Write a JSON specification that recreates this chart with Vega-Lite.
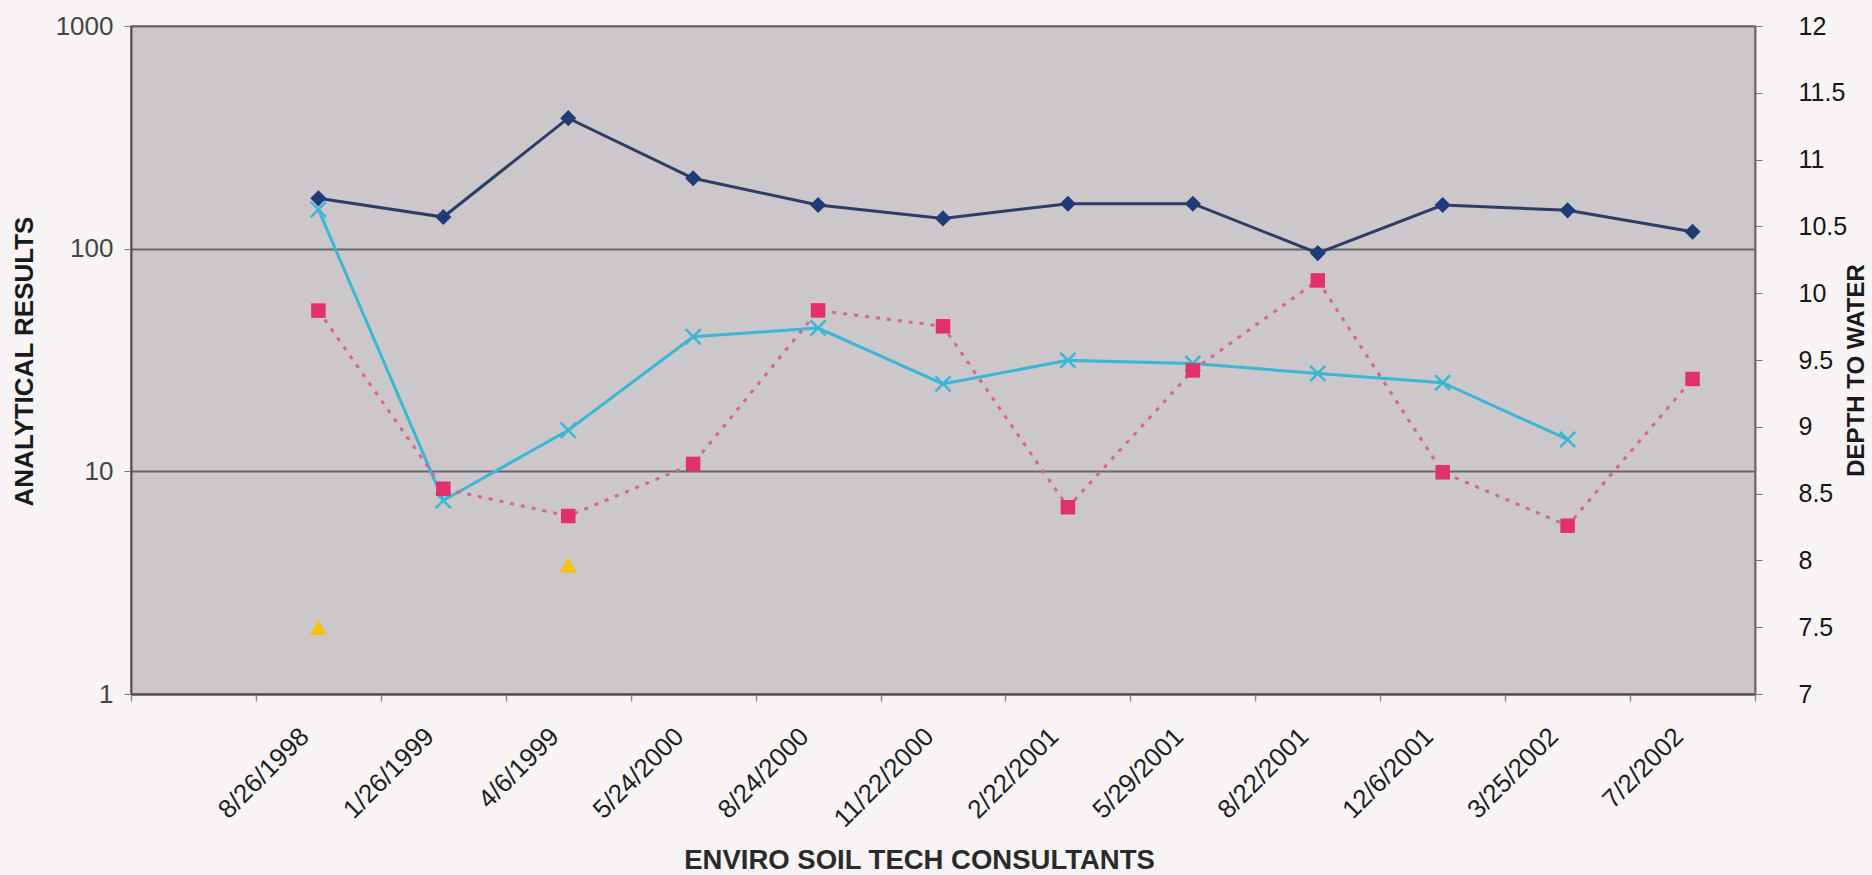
{
  "$schema": "https://vega.github.io/schema/vega-lite/v6.json",
  "width": 1624,
  "height": 668,
  "autosize": {"type": "none"},
  "padding": {"left": 131, "top": 26, "right": 117, "bottom": 181},
  "background": "#f8f4f6",
  "config": {
    "view": {"fill": "#cbc7ca", "stroke": "#7a7a7a", "strokeWidth": 1.5},
    "font": "Liberation Sans"
  },
  "data": {
    "values": [
      {"date": "8/26/1998", "depth": 10.71, "analyte_a": 52.7, "analyte_b": 150, "analyte_c": 1.99},
      {"date": "1/26/1999", "depth": 10.57, "analyte_a": 8.35, "analyte_b": 7.4, "analyte_c": null},
      {"date": "4/6/1999", "depth": 11.31, "analyte_a": 6.3, "analyte_b": 15.3, "analyte_c": 3.8},
      {"date": "5/24/2000", "depth": 10.86, "analyte_a": 10.8, "analyte_b": 40.2, "analyte_c": null},
      {"date": "8/24/2000", "depth": 10.66, "analyte_a": 52.8, "analyte_b": 44, "analyte_c": null},
      {"date": "11/22/2000", "depth": 10.56, "analyte_a": 44.8, "analyte_b": 24.7, "analyte_c": null},
      {"date": "2/22/2001", "depth": 10.67, "analyte_a": 6.9, "analyte_b": 31.5, "analyte_c": null},
      {"date": "5/29/2001", "depth": 10.67, "analyte_a": 28.4, "analyte_b": 30.5, "analyte_c": null},
      {"date": "8/22/2001", "depth": 10.3, "analyte_a": 72, "analyte_b": 27.5, "analyte_c": null},
      {"date": "12/6/2001", "depth": 10.66, "analyte_a": 9.9, "analyte_b": 25, "analyte_c": null},
      {"date": "3/25/2002", "depth": 10.62, "analyte_a": 5.7, "analyte_b": 13.9, "analyte_c": null},
      {"date": "7/2/2002", "depth": 10.46, "analyte_a": 26, "analyte_b": null, "analyte_c": null}
    ]
  },
  "encoding": {
    "x": {
      "field": "date",
      "type": "ordinal",
      "sort": [" ", "8/26/1998", "1/26/1999", "4/6/1999", "5/24/2000", "8/24/2000", "11/22/2000", "2/22/2001", "5/29/2001", "8/22/2001", "12/6/2001", "3/25/2002", "7/2/2002"],
      "scale": {
        "type": "band",
        "domain": [" ", "8/26/1998", "1/26/1999", "4/6/1999", "5/24/2000", "8/24/2000", "11/22/2000", "2/22/2001", "5/29/2001", "8/22/2001", "12/6/2001", "3/25/2002", "7/2/2002"],
        "paddingInner": 0,
        "paddingOuter": 0
      },
      "axis": {
        "title": "ENVIRO SOIL TECH CONSULTANTS",
        "tickBand": "extent",
        "labelAngle": -45,
        "labelAlign": "right",
        "labelBaseline": "middle",
        "labelOffset": -14,
        "labelPadding": 31,
        "labelOverlap": false,
        "labelFontSize": 26,
        "labelColor": "#1e1e1e",
        "tickSize": 7,
        "tickColor": "#8c8c8c",
        "tickWidth": 1.5,
        "domainColor": "#505050",
        "domainWidth": 2,
        "grid": false,
        "titleFontSize": 27.5,
        "titleFontWeight": "bold",
        "titleColor": "#2a2a2a",
        "titleX": 788,
        "titleY": 166,
        "titleAlign": "center",
        "titleBaseline": "middle"
      }
    }
  },
  "layer": [
    {
      "encoding": {
        "y": {
          "field": "analyte_b",
          "type": "quantitative",
          "scale": {"type": "log", "domain": [1, 1000], "nice": false},
          "axis": {
            "orient": "left",
            "values": [1, 10, 100, 1000],
            "format": "d",
            "grid": true,
            "gridColor": "#686868",
            "gridWidth": 2,
            "tickSize": 7,
            "tickColor": "#7a7a7a",
            "labelPadding": 11,
            "labelFontSize": 26,
            "labelColor": "#454545",
            "domainColor": "#505050",
            "domainWidth": 2,
            "title": "ANALYTICAL RESULTS",
            "titleFontSize": 26,
            "titleFontWeight": "bold",
            "titleColor": "#1a1a1a",
            "titleAngle": -90,
            "titleX": -107,
            "titleY": 335,
            "titleAlign": "center",
            "titleBaseline": "middle"
          }
        }
      },
      "layer": [
        {"mark": {"type": "line", "color": "#3ab7d4", "strokeWidth": 3}},
        {"mark": {"type": "point", "shape": "M-1,-1L1,1M-1,1L1,-1", "filled": false, "color": "#3ab7d4", "strokeWidth": 2.5, "size": 230, "opacity": 1}},
        {
          "mark": {"type": "point", "shape": "triangle-up", "filled": true, "color": "#f5c20f", "size": 300, "opacity": 1},
          "encoding": {"y": {"field": "analyte_c", "type": "quantitative"}}
        },
        {
          "mark": {"type": "line", "color": "#d8668a", "strokeWidth": 3, "strokeDash": [4, 7]},
          "encoding": {"y": {"field": "analyte_a", "type": "quantitative"}}
        },
        {
          "mark": {"type": "point", "shape": "square", "filled": true, "color": "#e2306b", "size": 210, "opacity": 1},
          "encoding": {"y": {"field": "analyte_a", "type": "quantitative"}}
        }
      ]
    },
    {
      "encoding": {
        "y": {
          "field": "depth",
          "type": "quantitative",
          "scale": {"domain": [7, 12], "nice": false, "zero": false},
          "axis": {
            "orient": "right",
            "values": [7, 7.5, 8, 8.5, 9, 9.5, 10, 10.5, 11, 11.5, 12],
            "format": "~g",
            "grid": false,
            "tickSize": 7,
            "tickColor": "#7a7a7a",
            "labelPadding": 36,
            "labelFontSize": 25,
            "labelColor": "#151515",
            "domainColor": "#6a6a6a",
            "domainWidth": 2,
            "title": "DEPTH TO WATER",
            "titleFontSize": 24,
            "titleFontWeight": "bold",
            "titleColor": "#1a1a1a",
            "titleAngle": -90,
            "titleX": 101,
            "titleY": 344,
            "titleAlign": "center",
            "titleBaseline": "middle"
          }
        }
      },
      "layer": [
        {"mark": {"type": "line", "color": "#2c3e66", "strokeWidth": 3}},
        {"mark": {"type": "point", "shape": "diamond", "filled": true, "color": "#1f3c78", "size": 260, "opacity": 1}}
      ]
    }
  ],
  "resolve": {"scale": {"y": "independent"}}
}
